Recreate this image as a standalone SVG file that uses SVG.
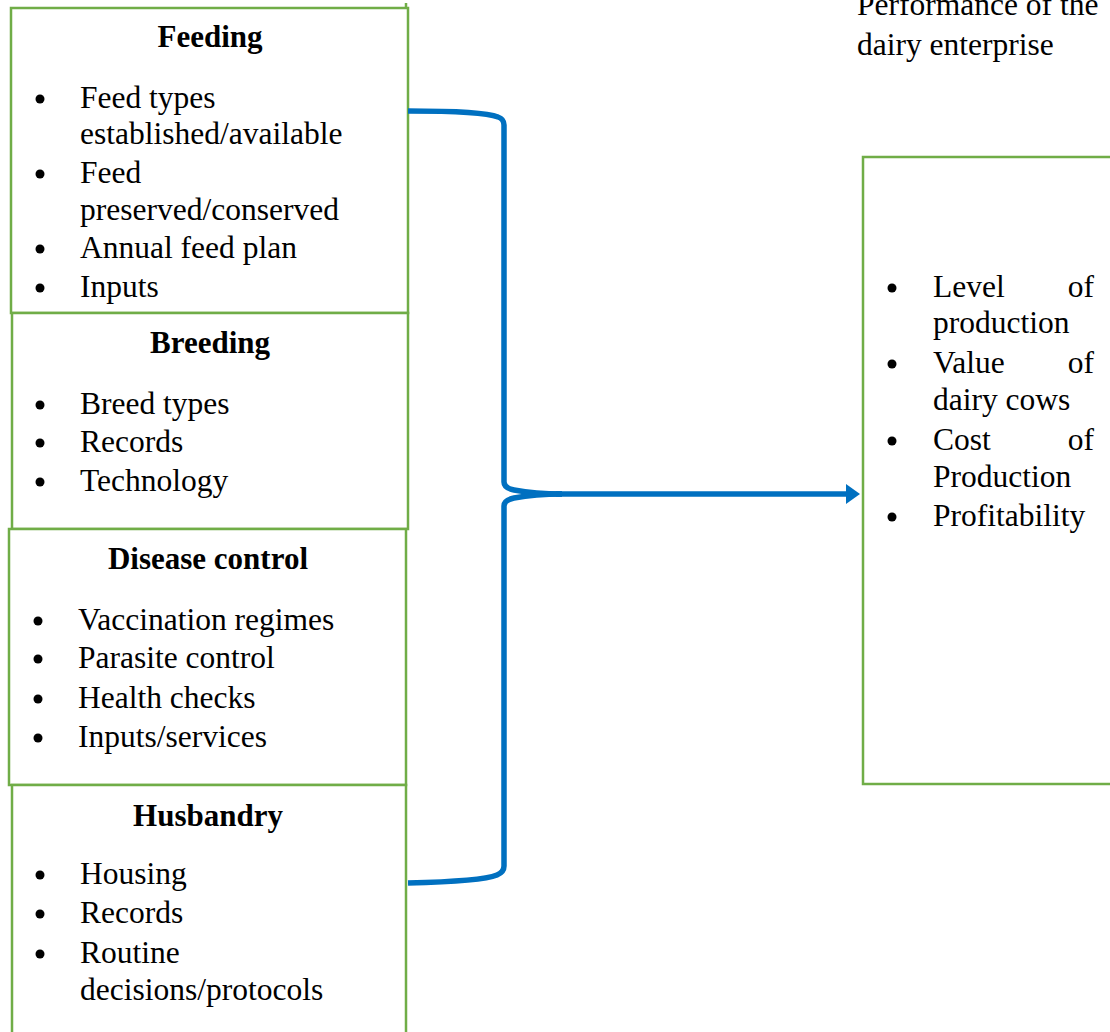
<svg xmlns="http://www.w3.org/2000/svg" width="1110" height="1032" viewBox="0 0 1110 1032">
<style>
.box{fill:#fff;stroke:#70AD47;stroke-width:2.5}
.h{font-family:"Liberation Serif","Times New Roman",serif;font-size:31px;font-weight:bold;text-anchor:middle;fill:#000}
.t{font-family:"Liberation Serif","Times New Roman",serif;font-size:31.5px;fill:#000}
.e{text-anchor:end}
.b{fill:#000}
.con{fill:none;stroke:#0070C0;stroke-width:5.5}
</style>
<rect width="1110" height="1032" fill="#fff"/>
<g id="feeding">
<rect class="box" x="11" y="8" width="397" height="305"/>
<line x1="406" y1="3" x2="406" y2="8" stroke="#70AD47" stroke-width="2.5"/>
<text class="h" x="210" y="47">Feeding</text>
<circle class="b" cx="40" cy="99" r="4.5"/><text class="t" x="80" y="108">Feed types</text>
<text class="t" x="80" y="144">established/available</text>
<circle class="b" cx="40" cy="174" r="4.5"/><text class="t" x="80" y="183">Feed</text>
<text class="t" x="80" y="220">preserved/conserved</text>
<circle class="b" cx="40" cy="249" r="4.5"/><text class="t" x="80" y="258">Annual feed plan</text>
<circle class="b" cx="40" cy="288" r="4.5"/><text class="t" x="80" y="297">Inputs</text>
</g>
<g id="breeding">
<rect class="box" x="12" y="313" width="396" height="216"/>
<text class="h" x="210" y="353">Breeding</text>
<circle class="b" cx="40" cy="405" r="4.5"/><text class="t" x="80" y="414">Breed types</text>
<circle class="b" cx="40" cy="443" r="4.5"/><text class="t" x="80" y="452">Records</text>
<circle class="b" cx="40" cy="482" r="4.5"/><text class="t" x="80" y="491">Technology</text>
</g>
<g id="disease">
<rect class="box" x="9" y="529" width="397" height="256"/>
<text class="h" x="208" y="569">Disease control</text>
<circle class="b" cx="38" cy="621" r="4.5"/><text class="t" x="78" y="630">Vaccination regimes</text>
<circle class="b" cx="38" cy="659" r="4.5"/><text class="t" x="78" y="668">Parasite control</text>
<circle class="b" cx="38" cy="699" r="4.5"/><text class="t" x="78" y="708">Health checks</text>
<circle class="b" cx="38" cy="738" r="4.5"/><text class="t" x="78" y="747">Inputs/services</text>
</g>
<g id="husbandry">
<rect class="box" x="12" y="785" width="394" height="260"/>
<text class="h" x="208" y="826">Husbandry</text>
<circle class="b" cx="40" cy="875" r="4.5"/><text class="t" x="80" y="884">Housing</text>
<circle class="b" cx="40" cy="914" r="4.5"/><text class="t" x="80" y="923">Records</text>
<circle class="b" cx="40" cy="954" r="4.5"/><text class="t" x="80" y="963">Routine</text>
<text class="t" x="80" y="1000">decisions/protocols</text>
</g>
<g id="performance-label">
<text class="t" x="857" y="15">Performance of the</text>
<text class="t" x="857" y="55">dairy enterprise</text>
</g>
<g id="performance">
<rect class="box" x="863" y="157" width="270" height="627"/>
<circle class="b" cx="892" cy="288" r="4.5"/><text class="t" x="933" y="297">Level</text><text class="t e" x="1094" y="297">of</text>
<text class="t" x="933" y="333">production</text>
<circle class="b" cx="892" cy="364" r="4.5"/><text class="t" x="933" y="373">Value</text><text class="t e" x="1094" y="373">of</text>
<text class="t" x="933" y="410">dairy cows</text>
<circle class="b" cx="892" cy="441" r="4.5"/><text class="t" x="933" y="450">Cost</text><text class="t e" x="1094" y="450">of</text>
<text class="t" x="933" y="487">Production</text>
<circle class="b" cx="892" cy="517" r="4.5"/><text class="t" x="933" y="526">Profitability</text>
</g>
<g id="connectors">
<path class="con" d="M408,111 C450,111 488,113 498,117 Q504,119 504,125 L504,482 Q504,488 514,490 C530,493 545,494 562,494"/>
<path class="con" d="M562,494 C545,494 530,495 514,498 Q504,500 504,506 L504,866 Q504,872 497,875 C485,880 450,882 408,883"/>
<line class="con" x1="556" y1="494" x2="848" y2="494" stroke-width="6.5"/>
<polygon points="846,484 860,494 846,504" fill="#0070C0"/>
</g>
</svg>
